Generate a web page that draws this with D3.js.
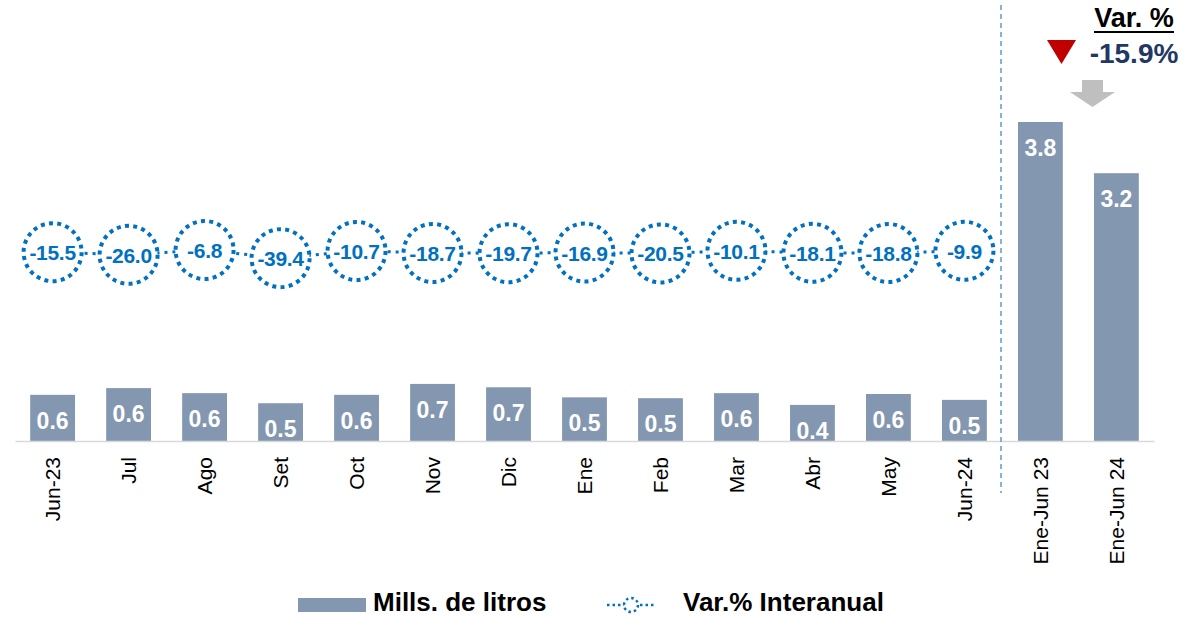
<!DOCTYPE html>
<html>
<head>
<meta charset="utf-8">
<script src="https://cdn.jsdelivr.net/npm/d3@7"></script>
<style>
  body { margin: 0; background: #fff; }
  text { font-family: "Liberation Sans", Arial, sans-serif; }
</style>
</head>
<body>
<script>
var categories = ['Jun-23', 'Jul', 'Ago', 'Set', 'Oct', 'Nov', 'Dic', 'Ene', 'Feb', 'Mar', 'Abr', 'May', 'Jun-24', 'Ene-Jun 23', 'Ene-Jun 24'];
var barValues = [0.55, 0.63, 0.57, 0.45, 0.55, 0.68, 0.64, 0.52, 0.51, 0.57, 0.43, 0.56, 0.49, 3.8, 3.19];
var barLabels = ['0.6', '0.6', '0.6', '0.5', '0.6', '0.7', '0.7', '0.5', '0.5', '0.6', '0.4', '0.6', '0.5', '3.8', '3.2'];
var varValues = [-15.5, -26.0, -6.8, -39.4, -10.7, -18.7, -19.7, -16.9, -20.5, -10.1, -18.1, -18.8, -9.9];
var totalVar = '-15.9%';

var W = 1204, H = 617;
var svg = d3.select('body').append('svg')
    .attr('width', W)
    .attr('height', H);

var x = d3.scaleBand()
    .domain(categories)
    .range([15, 1154])
    .paddingInner(0.41)
    .paddingOuter(0.2);
var y = d3.scaleLinear().domain([0, 3.8]).range([441, 122]);
var y2 = d3.scaleLinear().domain([0, -40]).range([248.3, 258.3]);

var blue = '#0070C0';
var barColor = '#8497B0';

// bars
svg.selectAll('rect.bar')
    .data(barValues)
    .enter().append('rect')
    .attr('class', 'bar')
    .attr('x', function(d, i) { return x(categories[i]); })
    .attr('y', function(d) { return y(d); })
    .attr('width', x.bandwidth())
    .attr('height', function(d) { return y(0) - y(d); })
    .attr('fill', barColor);

svg.selectAll('text.blab')
    .data(barValues)
    .enter().append('text')
    .attr('class', 'blab')
    .attr('x', function(d, i) { return x(categories[i]) + x.bandwidth() / 2; })
    .attr('y', function(d) { return y(d) + 34; })
    .attr('text-anchor', 'middle')
    .attr('font-size', 23)
    .attr('font-weight', 'bold')
    .attr('fill', '#fff')
    .text(function(d, i) { return barLabels[i]; });

// axis
var xAxis = d3.axisBottom(x).tickSize(0).tickPadding(0);
var gx = svg.append('g')
    .attr('transform', 'translate(0,' + y(0) + ')')
    .call(xAxis);
gx.select('.domain').attr('stroke', '#D9D9D9').attr('stroke-width', 1.5);
gx.selectAll('.tick text')
    .attr('font-family', '"Liberation Sans", Arial, sans-serif')
    .attr('font-size', 21)
    .attr('fill', '#000')
    .attr('transform', 'rotate(-90)')
    .attr('text-anchor', 'end')
    .attr('dy', '0.35em')
    .attr('x', -16)
    .attr('y', 0);

// separator
svg.append('line')
    .attr('x1', 1001).attr('x2', 1001)
    .attr('y1', 5).attr('y2', 493)
    .attr('stroke', '#5B9BD5')
    .attr('stroke-width', 1.5)
    .attr('stroke-dasharray', '5,4');

// variation line
var cx = function(d, i) { return x(categories[i]) + x.bandwidth() / 2; };
var line = d3.line()
    .x(function(d, i) { return cx(d, i); })
    .y(function(d) { return y2(d); });
svg.append('path')
    .datum(varValues)
    .attr('d', line)
    .attr('fill', 'none')
    .attr('stroke', blue)
    .attr('stroke-width', 3)
    .attr('stroke-dasharray', '3,5');

svg.selectAll('circle.var')
    .data(varValues)
    .enter().append('circle')
    .attr('class', 'var')
    .attr('cx', cx)
    .attr('cy', function(d) { return y2(d); })
    .attr('r', 29)
    .attr('fill', '#fff')
    .attr('stroke', blue)
    .attr('stroke-width', 4)
    .attr('stroke-dasharray', '4,4.3');

svg.selectAll('text.vlab')
    .data(varValues)
    .enter().append('text')
    .attr('class', 'vlab')
    .attr('x', cx)
    .attr('y', function(d) { return y2(d) + 8; })
    .attr('text-anchor', 'middle')
    .attr('font-size', 21)
    .attr('font-weight', 'bold')
    .attr('fill', blue)
    .attr('letter-spacing', -0.3)
    .text(function(d) { return d.toFixed(1); });

// annotation
svg.append('text')
    .attr('x', 1134).attr('y', 27)
    .attr('text-anchor', 'middle')
    .attr('font-size', 27)
    .attr('font-weight', 'bold')
    .attr('fill', '#000')
    .text('Var. %');
svg.append('line')
    .attr('x1', 1094).attr('x2', 1174)
    .attr('y1', 32).attr('y2', 32)
    .attr('stroke', '#000').attr('stroke-width', 2);
svg.append('text')
    .attr('x', 1134).attr('y', 63)
    .attr('text-anchor', 'middle')
    .attr('font-size', 28)
    .attr('font-weight', 'bold')
    .attr('fill', '#1F3864')
    .text(totalVar);
svg.append('path')
    .attr('d', 'M1047,40 L1076,40 L1061.5,64 Z')
    .attr('fill', '#C00000');
svg.append('path')
    .attr('d', 'M1082,80 L1103,80 L1103,92 L1115,92 L1092.5,107 L1070,92 L1082,92 Z')
    .attr('fill', '#BFBFBF');

// legend
svg.append('rect')
    .attr('x', 298).attr('y', 598)
    .attr('width', 68).attr('height', 14)
    .attr('fill', barColor);
svg.append('text')
    .attr('x', 373).attr('y', 611)
    .attr('font-size', 26)
    .attr('font-weight', 'bold')
    .text('Mills. de litros');
svg.append('line')
    .attr('x1', 607).attr('x2', 655)
    .attr('y1', 605).attr('y2', 605)
    .attr('stroke', blue).attr('stroke-width', 2.5)
    .attr('stroke-dasharray', '2.5,3');
svg.append('circle')
    .attr('cx', 631).attr('cy', 605).attr('r', 7)
    .attr('fill', '#fff')
    .attr('stroke', blue).attr('stroke-width', 2.5)
    .attr('stroke-dasharray', '2.5,3');
svg.append('text')
    .attr('x', 683).attr('y', 611)
    .attr('font-size', 26)
    .attr('font-weight', 'bold')
    .text('Var.% Interanual');
</script>
</body>
</html>
